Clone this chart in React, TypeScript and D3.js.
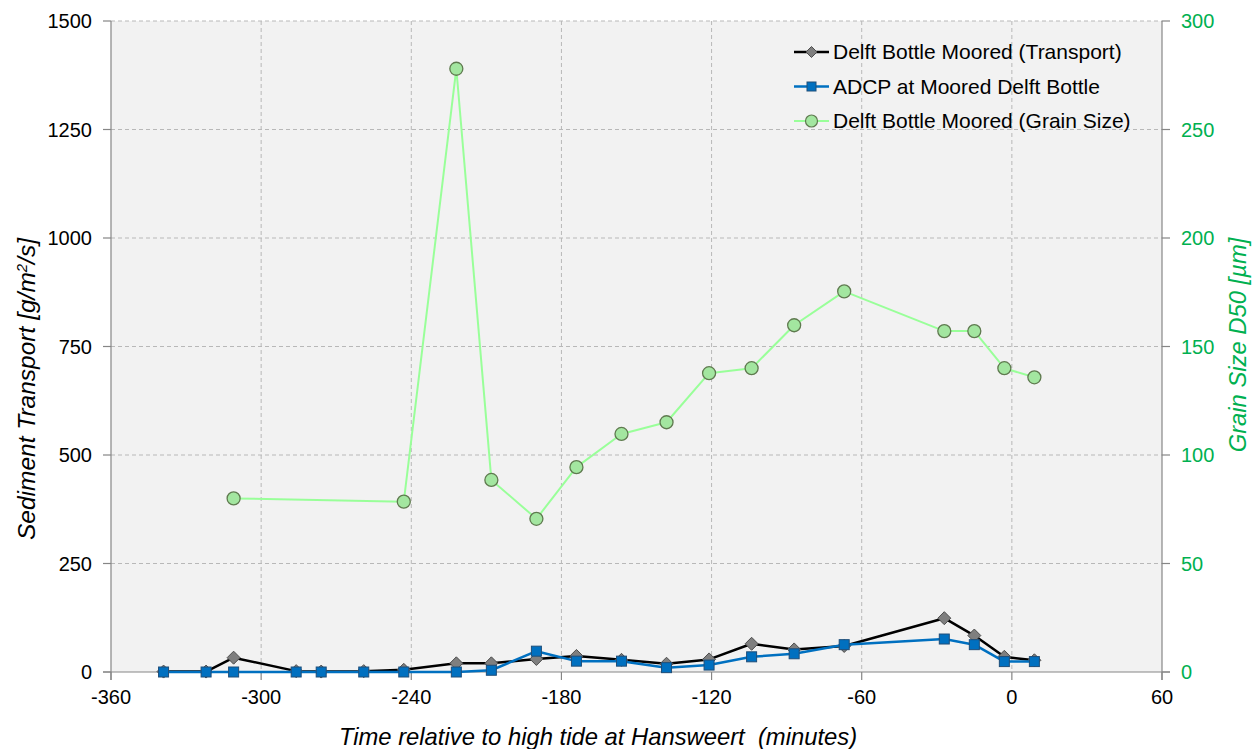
import React from "react";
import * as d3 from "d3";

const times = [-339, -322, -311, -286, -276, -259, -243, -222, -208, -190, -174, -156, -138, -121, -104, -87, -67, -27, -15, -3, 9];
const transportBottle = [1, 1, 33, 2, 1, 2, 5, 20, 20, 30, 37, 28, 19, 29, 65, 52, 60, 124, 84, 35, 27];
const transportAdcp = [0, 0, 0, 0, 0, 0, 0, 0, 4, 48, 25, 25, 10, 16, 35, 42, 63, 76, 63, 24, 24];
const grainTimes = [-311, -243, -222, -208, -190, -174, -156, -138, -121, -104, -87, -67, -27, -15, -3, 9];
const grainSize = [80, 78.5, 278, 88.5, 70.6, 94.4, 109.7, 115.1, 137.7, 140, 159.8, 175.4, 157.1, 157.1, 140, 135.8];
const xTicks = [-360, -300, -240, -180, -120, -60, 0, 60];
const yLeftTicks = [0, 250, 500, 750, 1000, 1250, 1500];
const yRightTicks = [0, 50, 100, 150, 200, 250, 300];

const W = 1258, H = 749;
const L = 111, R = 1162, T = 21, B = 672;
const FONT = "'Liberation Sans', Arial, sans-serif";

export default function App() {
  const x = d3.scaleLinear().domain([-360, 60]).range([L, R]);
  const yL = d3.scaleLinear().domain([0, 1500]).range([B, T]);
  const yR = d3.scaleLinear().domain([0, 300]).range([B, T]);

  const lineL = d3.line<[number, number]>().x(d => x(d[0])).y(d => yL(d[1]));
  const lineR = d3.line<[number, number]>().x(d => x(d[0])).y(d => yR(d[1]));

  const bottle: [number, number][] = times.map((t, i) => [t, transportBottle[i]]);
  const adcp: [number, number][] = times.map((t, i) => [t, transportAdcp[i]]);
  const grain: [number, number][] = grainTimes.map((t, i) => [t, grainSize[i]]);

  const diamond = (cx: number, cy: number, s = 6.5) =>
    `M${cx},${cy - s}L${cx + s},${cy}L${cx},${cy + s}L${cx - s},${cy}Z`;

  const legendItems = [
    { label: "Delft Bottle Moored (Transport)", kind: "d" },
    { label: "ADCP at Moored Delft Bottle", kind: "s" },
    { label: "Delft Bottle Moored (Grain Size)", kind: "c" },
  ];

  return (
    <svg width={W} height={H} style={{ position: "absolute", left: 0, top: 0, background: "#fff" }} fontFamily={FONT}>
      <rect x={L} y={T} width={R - L} height={B - T} fill="#f2f2f2" />
      {/* grid */}
      {xTicks.slice(1, -1).map(t => (
        <line key={"gx" + t} x1={x(t)} x2={x(t)} y1={T} y2={B} stroke="#b8b8b8" strokeDasharray="4,3" strokeWidth={1} />
      ))}
      {yLeftTicks.slice(1).map(t => (
        <line key={"gy" + t} x1={L} x2={R} y1={yL(t)} y2={yL(t)} stroke="#b8b8b8" strokeDasharray="4,3" strokeWidth={1} />
      ))}
      {/* axes */}
      <line x1={L} x2={L} y1={T} y2={B + 8} stroke="#868686" strokeWidth={1.2} />
      <line x1={R} x2={R} y1={T} y2={B + 8} stroke="#868686" strokeWidth={1.2} />
      <line x1={L - 8} x2={R + 8} y1={B} y2={B} stroke="#868686" strokeWidth={1.2} />
      {yLeftTicks.map(t => (
        <g key={"yl" + t}>
          <line x1={L - 8} x2={L} y1={yL(t)} y2={yL(t)} stroke="#868686" strokeWidth={1.2} />
          <text x={92} y={yL(t)} dy="0.35em" textAnchor="end" fontSize={20} fill="#000">{t}</text>
        </g>
      ))}
      {yRightTicks.map(t => (
        <g key={"yr" + t}>
          <line x1={R} x2={R + 8} y1={yR(t)} y2={yR(t)} stroke="#868686" strokeWidth={1.2} />
          <text x={1181} y={yR(t)} dy="0.35em" textAnchor="start" fontSize={20} fill="#00b050">{t}</text>
        </g>
      ))}
      {xTicks.map(t => (
        <g key={"xt" + t}>
          <line x1={x(t)} x2={x(t)} y1={B} y2={B + 8} stroke="#868686" strokeWidth={1.2} />
          <text x={x(t)} y={697} dy="0.35em" textAnchor="middle" fontSize={20} fill="#000">{t}</text>
        </g>
      ))}
      {/* axis titles */}
      <text x={598} y={737} dy="0.35em" textAnchor="middle" fontSize={23.8} fontStyle="italic" fill="#000" style={{ whiteSpace: "pre" }}>
        {"Time relative to high tide at Hansweert  (minutes)"}
      </text>
      <text transform={`translate(26,389) rotate(-90)`} textAnchor="middle" dy="0.35em" fontSize={24.5} fontStyle="italic" fill="#000">
        Sediment Transport [g/m<tspan dy="-8" fontSize={15}>2</tspan><tspan dy="8">/s]</tspan>
      </text>
      <text transform={`translate(1238,345) rotate(-90)`} textAnchor="middle" dy="0.35em" fontSize={23.8} fontStyle="italic" fill="#00b050">
        Grain Size D50 [µm]
      </text>
      {/* series */}
      <path d={lineL(bottle) || ""} fill="none" stroke="#000" strokeWidth={2.5} strokeLinejoin="round" />
      {bottle.map((d, i) => (
        <path key={"bd" + i} d={diamond(x(d[0]), yL(d[1]))} fill="#7f7f7f" stroke="#4d4d4d" strokeWidth={1} />
      ))}
      <path d={lineL(adcp) || ""} fill="none" stroke="#0070c0" strokeWidth={2.5} strokeLinejoin="round" />
      {adcp.map((d, i) => (
        <rect key={"as" + i} x={x(d[0]) - 5} y={yL(d[1]) - 5} width={10} height={10} fill="#0070c0" stroke="#1f4e79" strokeWidth={1} />
      ))}
      <path d={lineR(grain) || ""} fill="none" stroke="#99ff99" strokeWidth={2} strokeLinejoin="round" />
      {grain.map((d, i) => (
        <circle key={"gc" + i} cx={x(d[0])} cy={yR(d[1])} r={6.5} fill="#a3e6a0" stroke="#5f7a4f" strokeWidth={1.3} />
      ))}
      {/* legend */}
      {legendItems.map((it, i) => {
        const cy = 52 + i * 34.5;
        const stroke = it.kind === "d" ? "#000" : it.kind === "s" ? "#0070c0" : "#99ff99";
        return (
          <g key={"lg" + i}>
            <line x1={794} x2={829} y1={cy} y2={cy} stroke={stroke} strokeWidth={it.kind === "c" ? 2 : 2.5} />
            {it.kind === "d" && <path d={diamond(811.5, cy, 5.5)} fill="#7f7f7f" stroke="#4d4d4d" strokeWidth={1} />}
            {it.kind === "s" && <rect x={807} y={cy - 4.5} width={9} height={9} fill="#0070c0" stroke="#1f4e79" strokeWidth={1} />}
            {it.kind === "c" && <circle cx={811.5} cy={cy} r={6} fill="#a3e6a0" stroke="#5f7a4f" strokeWidth={1.2} />}
            <text x={833} y={cy} dy="0.35em" fontSize={21} fill="#000">{it.label}</text>
          </g>
        );
      })}
    </svg>
  );
}
